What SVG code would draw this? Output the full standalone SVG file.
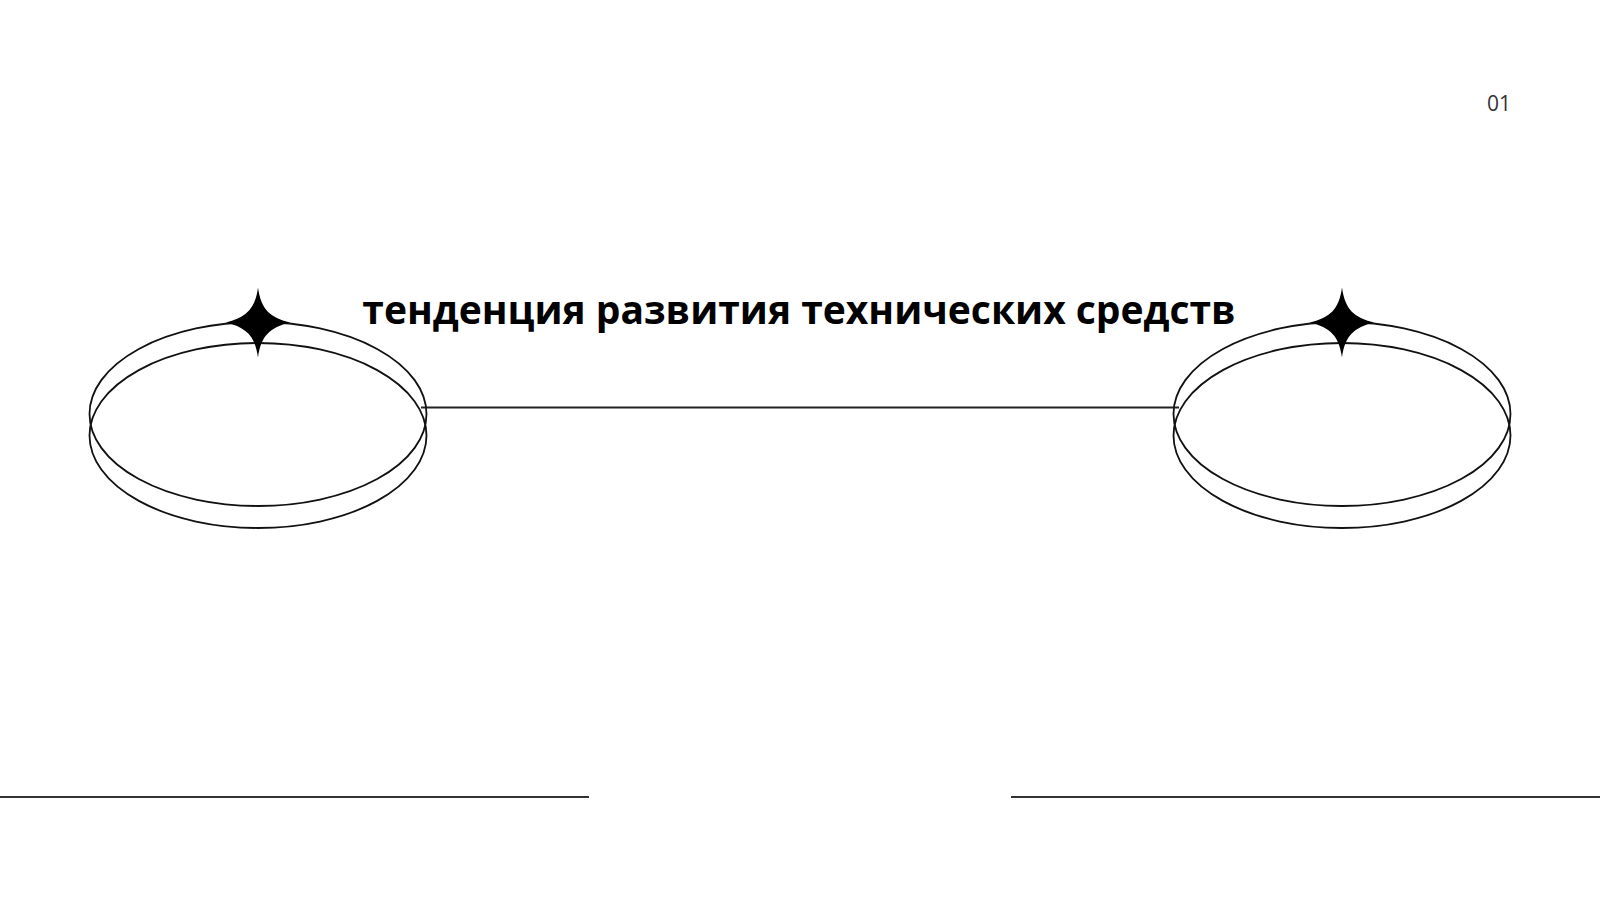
<svg xmlns="http://www.w3.org/2000/svg" width="1600" height="900" viewBox="0 0 1600 900">
  <defs>
    <style>
      .ring { fill: none; stroke: #111; stroke-width: 1.8; }
      .conn { stroke: #222; stroke-width: 1.8; fill: none; }
      .rule { stroke: #333; stroke-width: 2.2; fill: none; }
      .star { fill: #000; }
      .title { font-family: "Open Sans", "Noto Sans", "Liberation Sans", sans-serif; font-weight: 700; font-size: 39px; fill: #000; }
      .num { font-family: "Open Sans", "Noto Sans", "Liberation Sans", sans-serif; font-weight: 500; font-size: 21px; fill: #333; }
    </style>
    <path id="starShape" d="M0,-35 C3,-13 12,-5 32,0 C12,5 3,13 0,35 C-3,13 -12,5 -32,0 C-12,-5 -3,-13 0,-35 Z"/>
  </defs>
  <rect width="1600" height="900" fill="#fff"/>

  <g id="connectors">
    <line class="conn" x1="421" y1="407.5" x2="1179" y2="407.5"/>
  </g>

  <g id="node-left">
    <ellipse class="ring" cx="258" cy="414" rx="168.5" ry="92"/>
    <ellipse class="ring" cx="258" cy="435.5" rx="168.5" ry="92.5"/>
    <use href="#starShape" class="star" x="258" y="322.5"/>
  </g>

  <g id="node-right">
    <ellipse class="ring" cx="1342" cy="414" rx="168.5" ry="92"/>
    <ellipse class="ring" cx="1342" cy="435.5" rx="168.5" ry="92.5"/>
    <use href="#starShape" class="star" x="1342" y="322.5"/>
  </g>

  <g id="title">
    <text class="title" x="799" y="324" text-anchor="middle">тенденция развития технических средств</text>
  </g>

  <g id="page-number">
    <text class="num" x="1499" y="111" text-anchor="middle">01</text>
  </g>

  <g id="rules">
    <line class="rule" x1="0" y1="797" x2="589" y2="797"/>
    <line class="rule" x1="1011" y1="797" x2="1600" y2="797"/>
  </g>
</svg>
